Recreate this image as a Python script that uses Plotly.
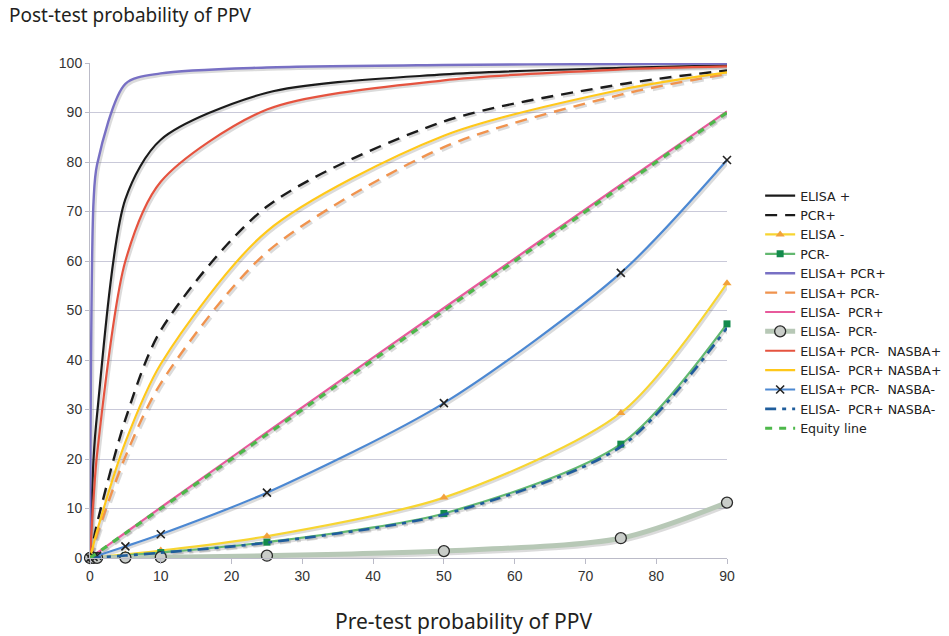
import plotly.graph_objects as go

x_pre = [0, 0.5, 1, 5, 10, 25, 50, 75, 90]

elisa_pos = [0, 20.0, 29.0, 72.5, 84.5, 94.0, 97.7, 99.0, 99.5]
pcr_pos = [0, 3.6, 7.0, 28.0, 46.0, 71.0, 88.2, 95.7, 98.5]
elisa_neg = [0, 0.07, 0.14, 0.72, 1.5, 4.4, 12.2, 29.3, 55.5]
pcr_neg = [0, 0.05, 0.1, 0.52, 1.1, 3.2, 9.0, 23.0, 47.3]
elisa_pos_pcr_pos = [0, 72.0, 79.5, 95.8, 97.9, 99.1, 99.6, 99.8, 99.9]
elisa_pos_pcr_neg = [0, 2.4, 4.7, 20.5, 35.3, 61.8, 83.0, 93.6, 97.8]
elisa_neg_pcr_pos = [0, 0.51, 1.02, 5.1, 10.2, 25.4, 50.5, 75.4, 90.2]
elisa_neg_pcr_neg = [0, 0.01, 0.02, 0.08, 0.16, 0.46, 1.4, 4.0, 11.2]
e_pos_p_neg_n_pos = [0, 12.0, 21.0, 60.0, 76.0, 90.6, 96.5, 98.7, 99.3]
e_neg_p_pos_n_pos = [0, 2.8, 5.5, 23.4, 39.2, 66.0, 85.3, 94.6, 98.1]
e_pos_p_neg_n_neg = [0, 0.23, 0.46, 2.34, 4.8, 13.2, 31.3, 57.6, 80.4]
e_neg_p_pos_n_neg = [0, 0.05, 0.1, 0.5, 1.07, 3.1, 8.8, 22.5, 46.5]
equity = [0, 0.5, 1, 5, 10, 25, 50, 75, 90]

x_ticks = [0, 10, 20, 30, 40, 50, 60, 70, 80, 90]
y_ticks = [0, 10, 20, 30, 40, 50, 60, 70, 80, 90, 100]

series = [
    dict(name="ELISA +", y=elisa_pos, color="#1b1b1b", width=2.2),
    dict(name="PCR+", y=pcr_pos, color="#1b1b1b", width=2.4, dash="12px,8px"),
    dict(name="ELISA -", y=elisa_neg, color="#F7D531", width=2.2,
         marker=dict(symbol="triangle-up", size=8, color="#F2A23C")),
    dict(name="PCR-", y=pcr_neg, color="#62B870", width=2.2,
         marker=dict(symbol="square", size=7, color="#138A4C")),
    dict(name="ELISA+ PCR+", y=elisa_pos_pcr_pos, color="#7870C4", width=2.4),
    dict(name="ELISA+ PCR-", y=elisa_pos_pcr_neg, color="#F0934E", width=2.4, dash="12px,8px"),
    dict(name="ELISA-  PCR+", y=elisa_neg_pcr_pos, color="#E85A9C", width=2.2),
    dict(name="ELISA-  PCR-", y=elisa_neg_pcr_neg, color="#B7C8B6", width=5,
         marker=dict(symbol="circle", size=11, color="#C9CDC9",
                     line=dict(color="#2a2a2a", width=1.3))),
    dict(name="ELISA+ PCR-  NASBA+", y=e_pos_p_neg_n_pos, color="#E5533F", width=2.2),
    dict(name="ELISA-  PCR+ NASBA+", y=e_neg_p_pos_n_pos, color="#FFC81A", width=2.2),
    dict(name="ELISA+ PCR-  NASBA-", y=e_pos_p_neg_n_neg, color="#4C88D2", width=2.2,
         marker=dict(symbol="x-thin", size=8, color="#222",
                     line=dict(color="#222", width=1.6))),
    dict(name="ELISA-  PCR+ NASBA-", y=e_neg_p_pos_n_neg, color="#1F5D9C", width=2.6,
         dash="11px,6px,4px,6px"),
    dict(name="Equity line", y=equity, color="#4DB84A", width=3.2, dash="7px,7px"),
]

fig = go.Figure()

# soft drop shadows (offset ~2px right / down), drawn first so they sit beneath
dx = 0.25
dy = -0.35
for s in series:
    fig.add_trace(go.Scatter(
        x=[v + dx for v in x_pre], y=[v + dy for v in s["y"]], mode="lines",
        line=dict(color="rgba(90,90,90,0.22)", width=s["width"] + 0.6,
                  dash=s.get("dash", "solid"), shape="spline", smoothing=0.8),
        showlegend=False, hoverinfo="skip", cliponaxis=False))

for s in series:
    mk = s.get("marker")
    kw = dict(x=x_pre, y=s["y"], name=s["name"],
              mode="lines+markers" if mk else "lines",
              line=dict(color=s["color"], width=s["width"], dash=s.get("dash", "solid"),
                        shape="spline", smoothing=0.8),
              cliponaxis=False)
    if mk:
        kw["marker"] = mk
    fig.add_trace(go.Scatter(**kw))

fig.update_layout(
    width=949, height=636, autosize=False,
    margin=dict(l=90, r=222, t=63, b=78),
    paper_bgcolor="white", plot_bgcolor="white",
    font=dict(family="Liberation Sans", size=14, color="#333"),
    showlegend=True,
    legend=dict(x=0.801, y=0.7154, xref="container", yref="container",
                xanchor="left", yanchor="top",
                font=dict(family="DejaVu Sans", size=12.6, color="#222"),
                tracegroupgap=0, bgcolor="rgba(0,0,0,0)"),
    annotations=[
        dict(text="Post-test probability of PPV", xref="paper", yref="paper",
             x=-0.1307, y=1.096, xanchor="left", yanchor="middle", showarrow=False,
             font=dict(family="Noto Sans", size=19, color="#231f20")),
        dict(text="Pre-test probability of PPV", xref="paper", yref="paper",
             x=0.586, y=-0.127, xanchor="center", yanchor="middle", showarrow=False,
             font=dict(family="Noto Sans", size=21, color="#231f20")),
    ],
)
fig.update_xaxes(range=[0, 90], tickvals=x_ticks, showgrid=False, zeroline=False,
                 showline=True, linecolor="#BBBBC8", linewidth=1,
                 ticks="outside", ticklen=5, tickcolor="#BBBBC8")
fig.update_yaxes(range=[0, 100], tickvals=y_ticks, showgrid=True, gridcolor="#C9C9D9",
                 gridwidth=1, zeroline=False, showline=True, linecolor="#BBBBC8",
                 ticks="outside", ticklen=4, tickcolor="#BBBBC8")

fig.write_html(
    "out.html",
    config={"displayModeBar": False, "responsive": False},
    post_script=("document.body.style.margin='0';"
                 "document.body.style.overflow='hidden';"
                 "document.documentElement.style.overflow='hidden';"),
)
